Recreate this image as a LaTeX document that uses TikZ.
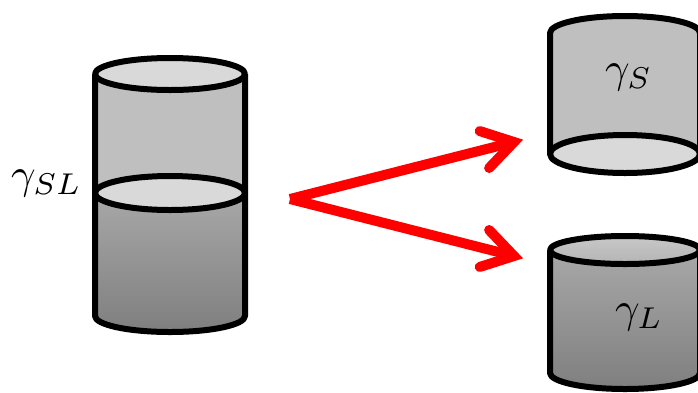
\documentclass[tikz,border=0pt]{standalone}
\usetikzlibrary{calc}
\definecolor{bodygray}{HTML}{BFBFBF}
\definecolor{lidgray}{HTML}{D9D9D9}
\definecolor{darktop}{HTML}{A8A8A8}
\definecolor{darkbot}{HTML}{7F7F7F}
\definecolor{lidtop}{HTML}{C8C8C8}
\definecolor{lidbot}{HTML}{B4B4B4}
\newcommand{\biglbl}[1]{\scalebox{4.3}{$#1$}}
\begin{document}
\begin{tikzpicture}[x=1pt,y=-1pt,
  cyl/.style={line width=6pt, line join=round},
  lid/.style={cyl, fill=lidgray},
  lbl/.style={anchor=base west, inner sep=0pt},
  redline/.style={draw=red, line width=10pt},
  barb/.style={draw=red, line width=10pt, line cap=round, line join=miter}]
\clip (0,0) rectangle (698,392);
\fill[white] (0,0) rectangle (698,392);

% left cylinder (solid over liquid)
\shade[top color=darktop,bottom color=darkbot] (95,193) -- (95,316) arc[start angle=180,end angle=0,x radius=75,y radius=16] -- (245,193) -- cycle;
\fill[bodygray] (95,74) rectangle (245,193);
\draw[cyl] (95,74) -- (95,316) arc[start angle=180,end angle=0,x radius=75,y radius=16] -- (245,74);
\draw[lid] (170,193) ellipse[x radius=75,y radius=17];
\draw[lid] (170,74) ellipse[x radius=75,y radius=16];
\coordinate (cylSL) at (170,193);

% right top cylinder (solid)
\fill[bodygray] (550,33) arc[start angle=180,end angle=360,x radius=75,y radius=17] -- (700,154) -- (550,154) -- cycle;
\draw[cyl] (550,154) -- (550,33) arc[start angle=180,end angle=360,x radius=75,y radius=17] -- (700,154);
\draw[lid] (625,154) ellipse[x radius=75,y radius=19];

% right bottom cylinder (liquid)
\shade[top color=darktop,bottom color=darkbot] (550,250) -- (550,373) arc[start angle=180,end angle=0,x radius=75,y radius=16] -- (700,250) -- cycle;
\draw[cyl] (550,250) -- (550,373) arc[start angle=180,end angle=0,x radius=75,y radius=16] -- (700,250);
\draw[cyl, top color=lidtop, bottom color=lidbot] (625,250) ellipse[x radius=75,y radius=14];

% labels
\node[lbl] (gsl) at (11,188) {\biglbl{\gamma_{SL}}};
\node[lbl] (gs) at (605,82) {\biglbl{\gamma_{S}}};
\node[lbl] (gl) at (615,322) {\biglbl{\gamma_{L}}};

% arrows
\coordinate (src) at (290,199);
\coordinate (tipS) at (514,142);
\coordinate (tipL) at (514,256);
\draw[redline] (src) -- (tipS);
\draw[redline] (src) -- (tipL);
\draw[barb] ($(tipS)!36pt!32:(src)$) -- (tipS) -- ($(tipS)!36pt!-32:(src)$);
\draw[barb] ($(tipL)!36pt!32:(src)$) -- (tipL) -- ($(tipL)!36pt!-32:(src)$);
\end{tikzpicture}
\end{document}
